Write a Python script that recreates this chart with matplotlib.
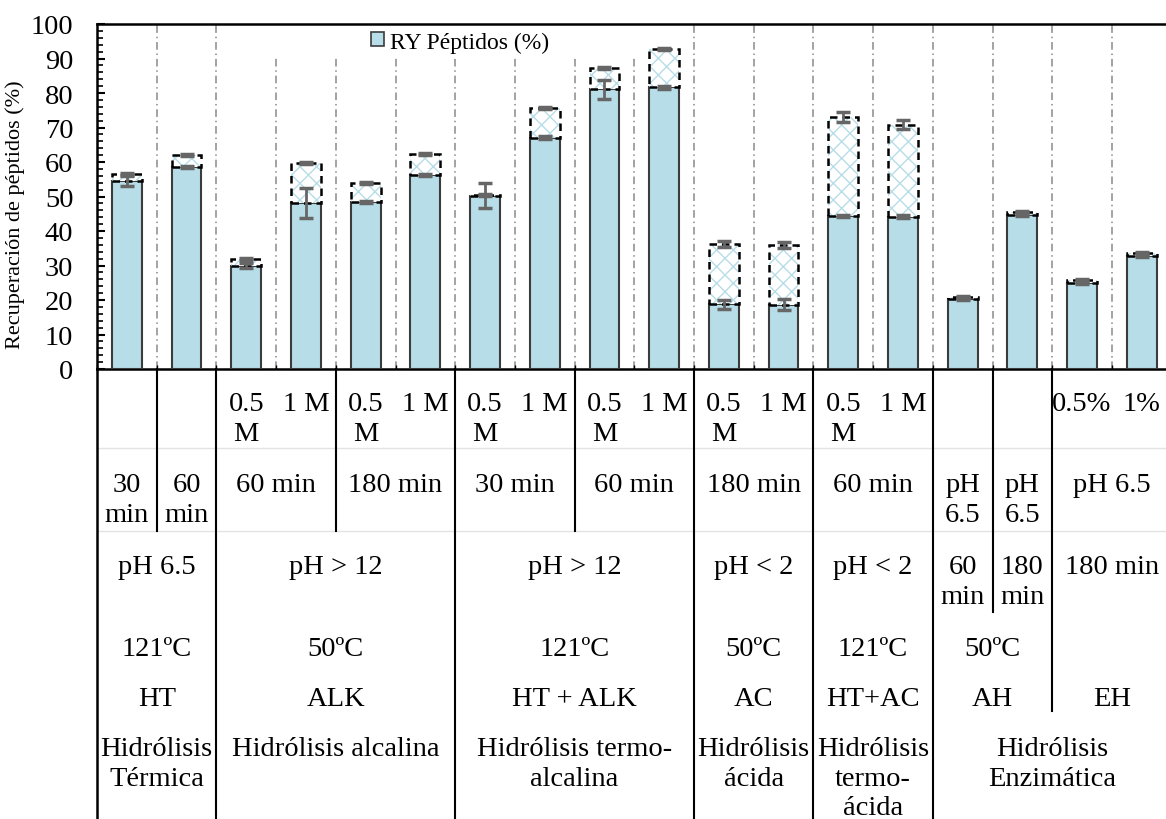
import matplotlib
matplotlib.use('Agg')
import matplotlib.pyplot as plt
from matplotlib.patches import Patch, Rectangle
from matplotlib import transforms
import numpy as np

plt.rcParams['font.family'] = ['Liberation Serif', 'DejaVu Serif']
plt.rcParams['hatch.linewidth'] = 1.0

# bar values (solid part) and stacked top
solid = [54.5, 58.6, 30.0, 48.1, 48.3, 56.2, 50.2, 67.1, 81.1, 81.6,
         18.8, 18.6, 44.4, 44.2, 20.2, 44.6, 24.8, 32.7]
total = [56.6, 62.0, 32.0, 59.7, 53.9, 62.2, 50.4, 75.7, 87.2, 92.8,
         36.3, 35.9, 73.0, 70.8, 21.0, 45.6, 25.7, 33.5]
err_solid = [1.5, 0.3, 0.7, 4.3, 0.3, 0.3, 3.6, 0.3, 2.8, 0.3,
             1.3, 1.6, 0.3, 0.3, 0.3, 0.3, 0.3, 0.3]
err_total = [0.3, 0.3, 0.3, 0.3, 0.3, 0.3, 0.3, 0.3, 0.3, 0.3,
             0.8, 0.9, 1.45, 1.35, 0.3, 0.3, 0.3, 0.3]

legend_label = 'RY Péptidos (%)'
y_label = 'Recuperación de péptidos (%)'

# multi-level category axis (innermost first)
conc_labels = ['', '', '0.5\nM', '1 M', '0.5\nM', '1 M', '0.5\nM', '1 M', '0.5\nM', '1 M',
               '0.5\nM', '1 M', '0.5\nM', '1 M', '', '', '0.5%', '1%']
time_groups = [('30\nmin', 1), ('60\nmin', 1), ('60 min', 2), ('180 min', 2), ('30 min', 2),
               ('60 min', 2), ('180 min', 2), ('60 min', 2), ('pH\n6.5', 1), ('pH\n6.5', 1),
               ('pH 6.5', 2)]
ph_groups = [('pH 6.5', 2), ('pH > 12', 4), ('pH > 12', 4), ('pH < 2', 2), ('pH < 2', 2),
             ('60\nmin', 1), ('180\nmin', 1), ('180 min', 2)]
temp_groups = [('121ºC', 2), ('50ºC', 4), ('121ºC', 4), ('50ºC', 2), ('121ºC', 2),
               ('50ºC', 2), ('', 2)]
type_groups = [('HT', 2), ('ALK', 4), ('HT + ALK', 4), ('AC', 2), ('HT+AC', 2),
               ('AH', 2), ('EH', 2)]
name_groups = [('Hidrólisis\nTérmica', 2), ('Hidrólisis alcalina', 4),
               ('Hidrólisis termo-\nalcalina', 4), ('Hidrólisis\nácida', 2),
               ('Hidrólisis\ntermo-\nácida', 2), ('Hidrólisis\nEnzimática', 4)]

W, H = 1166, 820
cat_w = 59.7
left_px, top_px, axis_px = 97, 25, 370
n = len(solid)

fig = plt.figure(figsize=(W / 100, H / 100), dpi=100)
ax = fig.add_axes([left_px / W, 1 - axis_px / H, n * cat_w / W, (axis_px - top_px) / H])

x = np.arange(n)
bar_color = '#B7DDE8'
edge = '#3c3c3c'
extra = np.array(total) - np.array(solid)

ax.bar(x, solid, width=0.5, color=bar_color, edgecolor=edge, linewidth=1.5, zorder=3)
ax.bar(x, extra, bottom=solid, width=0.5, color='white', edgecolor=bar_color,
       hatch='xx', linewidth=0, zorder=3)
ax.bar(x, extra, bottom=solid, width=0.5, color='none', edgecolor='black',
       linestyle=(0, (3, 2)), linewidth=1.8, zorder=4)
ax.errorbar(x, solid, yerr=err_solid, fmt='none', ecolor='#666666', elinewidth=2,
            capsize=5, capthick=2.5, zorder=5)
ax.errorbar(x, total, yerr=err_total, fmt='none', ecolor='#666666', elinewidth=2,
            capsize=5, capthick=2.5, zorder=5)

# dash-dot separators between categories
for k in range(1, n):
    ax.axvline(k - 0.5, color='#8a8a8a', lw=1.1, linestyle=(0, (5, 2.5, 1, 2.5)), zorder=1)

def ax_xy(px, py):
    return (px - left_px) / (n * cat_w), (axis_px - py) / (axis_px - top_px)

# white box behind legend
bx0, by0 = ax_xy(272, 58)
bx1, by1 = ax_xy(636, 25)
ax.add_patch(Rectangle((bx0, by0), bx1 - bx0, by1 - by0, transform=ax.transAxes,
                       facecolor='white', edgecolor='none', zorder=2))

lx, ly = ax_xy(371, 43)
ax.legend(handles=[Patch(facecolor=bar_color, edgecolor=edge, linewidth=1.2)],
          labels=[legend_label], loc='center left', bbox_to_anchor=(lx, ly),
          frameon=False, borderpad=0, borderaxespad=0, handlelength=0.55,
          handleheight=0.55, handletextpad=0.25, fontsize=17)

ax.set_xlim(-0.5, n - 0.5)
ax.set_ylim(0, 100)
ax.set_yticks(np.arange(0, 101, 10))
ax.set_yticks(np.arange(0, 101, 2), minor=True)
ax.set_xticks(np.arange(-0.5, n, 1))
ax.set_xticklabels([])
ax.tick_params(axis='y', which='major', direction='in', length=6, width=1.5,
               labelsize=20.5, pad=17)
ax.tick_params(axis='y', which='minor', direction='in', length=4.5, width=1.2)
ax.tick_params(axis='x', which='major', direction='in', length=3, width=1)
for s in ['left', 'bottom', 'top']:
    ax.spines[s].set_linewidth(1.8)
    ax.spines[s].set_color('black')

ax.set_ylabel(y_label, fontsize=16)
ax.yaxis.set_label_coords(ax_xy(25, 0)[0], 0.45)

# category table under the axis
blend = transforms.blended_transform_factory(ax.transData, fig.transFigure)
row_top = [370, 449, 532, 613, 663, 712]
text_top = [392, 473, 555, 637, 687, 737]
bottom_px = 820
fs = 20.5

def fy(py):
    return 1 - py / H

for i, lab in enumerate(conc_labels):
    ax.text(i, fy(text_top[0]), lab, transform=blend, ha='center', va='top',
            fontsize=fs, linespacing=1.25, clip_on=False)

levels = [time_groups, ph_groups, temp_groups, type_groups, name_groups]
line_depth = {}
for j, groups in enumerate(levels):
    start = 0
    for lab, span in groups:
        cx = start + (span - 1) / 2
        ax.text(cx, fy(text_top[j + 1]), lab, transform=blend, ha='center', va='top',
                fontsize=fs, linespacing=1.25, clip_on=False)
        start += span
        if start < n:
            line_depth[start] = j + 1

for k, depth in line_depth.items():
    yb = row_top[depth + 1] if depth + 1 < len(row_top) else bottom_px
    ax.plot([k - 0.5, k - 0.5], [fy(axis_px), fy(yb)], transform=blend, color='black',
            lw=1.5, clip_on=False)
ax.plot([-0.5, -0.5], [fy(axis_px), fy(bottom_px)], transform=blend, color='black',
        lw=1.8, clip_on=False)

# faint row separators
for py in row_top[1:3]:
    ax.plot([-0.5, n - 0.5], [fy(py), fy(py)], transform=blend, color='#e3e3e3',
            lw=1, clip_on=False, zorder=0)

fig.savefig('out.png', dpi=100)
